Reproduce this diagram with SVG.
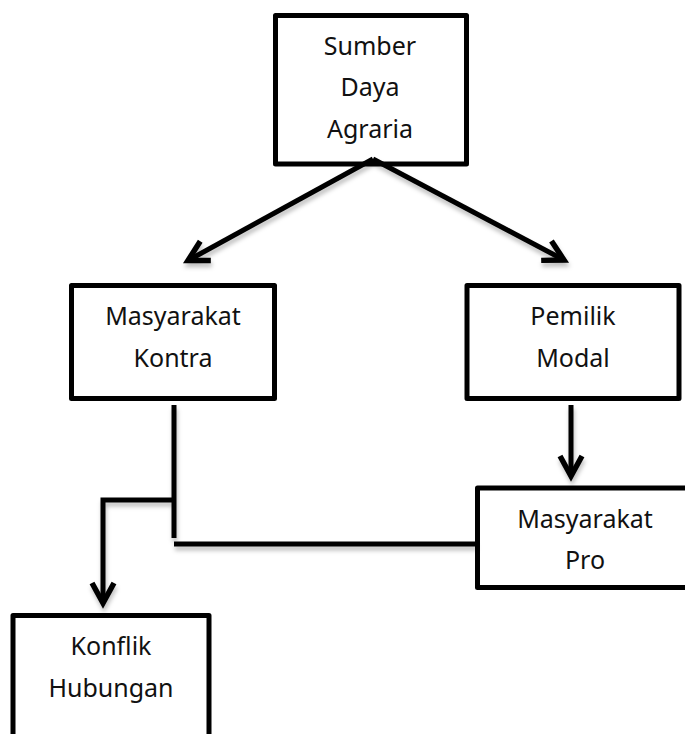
<svg xmlns="http://www.w3.org/2000/svg" width="685" height="734" viewBox="0 0 685 734">
  <style>
    .box { fill: #ffffff; stroke: #000000; stroke-width: 5; stroke-linejoin: round; }
    .lbl { font-family: "Noto Sans", "Open Sans", sans-serif; font-size: 25px; fill: #111111; text-anchor: middle; }
    .ln { fill: none; stroke: #000000; stroke-width: 5; stroke-linejoin: miter; }
  </style>
  <defs>
    <filter id="sh" x="-20%" y="-20%" width="140%" height="140%">
      <feDropShadow dx="1" dy="4" stdDeviation="2" flood-color="#000000" flood-opacity="0.25"/>
    </filter>
    <marker id="arr" markerUnits="userSpaceOnUse" viewBox="-26 -14 32 28" refX="0" refY="0" markerWidth="32" markerHeight="28" orient="auto" overflow="visible">
      <path d="M-20,-11 L0,0 L-20,11" fill="none" stroke="#000000" stroke-width="5.5" stroke-linejoin="miter" stroke-miterlimit="10"/>
    </marker>
  </defs>
  <rect width="685" height="734" fill="#ffffff"/>

  <g id="sumber-daya-agraria">
    <rect class="box" x="275.5" y="15.5" width="191" height="148.5"/>
    <text class="lbl" x="370" y="55">Sumber</text>
    <text class="lbl" x="370" y="96">Daya</text>
    <text class="lbl" x="370" y="138">Agraria</text>
  </g>

  <g id="masyarakat-kontra">
    <rect class="box" x="71.5" y="285.5" width="203" height="113"/>
    <text class="lbl" x="173" y="325">Masyarakat</text>
    <text class="lbl" x="173" y="367">Kontra</text>
  </g>

  <g id="pemilik-modal">
    <rect class="box" x="467" y="285.5" width="212" height="113"/>
    <text class="lbl" x="573" y="325">Pemilik</text>
    <text class="lbl" x="573" y="367">Modal</text>
  </g>

  <g id="masyarakat-pro">
    <rect class="box" x="477.5" y="488" width="230" height="99.5"/>
    <text class="lbl" x="585" y="528">Masyarakat</text>
    <text class="lbl" x="585" y="569">Pro</text>
  </g>

  <g id="konflik-hubungan">
    <rect class="box" x="13" y="615.5" width="196" height="140"/>
    <text class="lbl" x="111" y="655">Konflik</text>
    <text class="lbl" x="111" y="697">Hubungan</text>
  </g>

  <g id="connectors" filter="url(#sh)">
    <line class="ln" x1="373" y1="159" x2="188" y2="260.5" marker-end="url(#arr)"/>
    <line class="ln" x1="373" y1="159" x2="564" y2="260" marker-end="url(#arr)"/>
    <line class="ln" x1="571" y1="405" x2="571" y2="476" marker-end="url(#arr)"/>
    <line class="ln" x1="174" y1="405" x2="174" y2="538"/>
    <polyline class="ln" points="174,500 103,500 103,603" marker-end="url(#arr)"/>
    <line class="ln" x1="174" y1="544" x2="476" y2="544"/>
  </g>
</svg>
